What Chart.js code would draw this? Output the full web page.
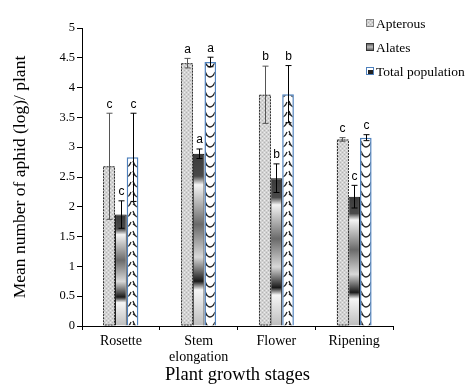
<!DOCTYPE html>
<html>
<head>
<meta charset="utf-8">
<script src="https://cdn.jsdelivr.net/npm/chart.js@4/dist/chart.umd.min.js"></script>
<style>
  html, body { margin: 0; padding: 0; background: #fff; }
  #wrap { width: 470px; height: 390px; }
</style>
</head>
<body>
<div id="wrap"><canvas id="chart" width="470" height="390"></canvas></div>
<script>
const categories = ['Rosette', ['Stem', 'elongation'], 'Flower', 'Ripening'];
const seriesNames = ['Apterous', 'Alates', 'Total population'];
const apterous = [2.68, 4.41, 3.88, 3.13];
const apterousErr = [0.89, 0.08, 0.48, 0.03];
const alates = [1.87, 2.89, 2.48, 2.17];
const alatesErr = [0.23, 0.08, 0.24, 0.19];
const total = [2.83, 4.43, 3.89, 3.16];
const totalErr = [0.74, 0.08, 0.48, 0.05];
const letters = [['c', 'a', 'b', 'c'], ['c', 'a', 'b', 'c'], ['c', 'a', 'b', 'c']];

const serif = "'Liberation Serif', 'Times New Roman', serif";
const sans = "'Liberation Sans', Arial, sans-serif";

// fill patterns
function dotPattern() {
  const c = document.createElement('canvas');
  c.width = 4; c.height = 4;
  const g = c.getContext('2d');
  g.fillStyle = '#d2d2d2'; g.fillRect(0, 0, 4, 4);
  g.fillStyle = '#ececec'; g.fillRect(0, 0, 1, 1); g.fillRect(2, 2, 1, 1);
  g.fillStyle = '#b4b4b4'; g.fillRect(2, 0, 1, 1); g.fillRect(0, 2, 1, 1);
  return g.createPattern(c, 'repeat');
}
function chevronPattern() {
  const c = document.createElement('canvas');
  c.width = 12; c.height = 10;
  const g = c.getContext('2d');
  g.fillStyle = '#fff'; g.fillRect(0, 0, 12, 10);
  g.strokeStyle = '#222'; g.lineWidth = 1.3;
  g.beginPath();
  g.moveTo(1, 1); g.quadraticCurveTo(3, 7, 6, 7); g.quadraticCurveTo(9, 7, 11, 2);
  g.moveTo(1, 4); g.lineTo(4, 6);
  g.stroke();
  return g.createPattern(c, 'repeat');
}
const aptFill = dotPattern();
const totFill = chevronPattern();

function alatesFill(ctx) {
  const chart = ctx.chart, y = chart.scales.y;
  if (!y || ctx.raw == null) return '#888';
  const top = y.getPixelForValue(ctx.raw), bot = y.getPixelForValue(0);
  if (!isFinite(top) || !isFinite(bot) || bot - top < 1) return '#888';
  const gr = chart.ctx.createLinearGradient(0, top, 0, bot);
  gr.addColorStop(0, '#3a3a3a');
  gr.addColorStop(0.13, '#4a4a4a');
  gr.addColorStop(0.18, '#f4f4f4');
  gr.addColorStop(0.41, '#6a6a6a');
  gr.addColorStop(0.6, '#d8d8d8');
  gr.addColorStop(0.74, '#1a1a1a');
  gr.addColorStop(0.79, '#f6f6f6');
  gr.addColorStop(1, '#bdbdbd');
  return gr;
}

const errs = [apterousErr, alatesErr, totalErr];
const errColors = ['#555', '#000', '#000'];

const extras = {
  id: 'extras',
  afterDatasetsDraw(chart) {
    const g = chart.ctx, y = chart.scales.y;
    g.save();
    // dashed outline for apterous
    chart.getDatasetMeta(0).data.forEach(el => {
      g.strokeStyle = '#333'; g.lineWidth = 1; g.setLineDash([2, 1]);
      const w = el.width;
      g.strokeRect(Math.round(el.x - w / 2) + 0.5, el.y + 0.5, Math.round(w) - 1, el.base - el.y - 1);
    });
    g.setLineDash([]);
    // error bars and letters
    chart.data.datasets.forEach((ds, di) => {
      chart.getDatasetMeta(di).data.forEach((el, i) => {
        const v = ds.data[i], e = errs[di][i];
        const yt = y.getPixelForValue(v + e), yb = y.getPixelForValue(v - e);
        const x = Math.round(el.x) + 0.5;
        g.strokeStyle = errColors[di]; g.lineWidth = 1;
        g.beginPath();
        g.moveTo(x, yt); g.lineTo(x, yb);
        g.moveTo(x - 3, yt); g.lineTo(x + 3, yt);
        g.moveTo(x - 3, yb); g.lineTo(x + 3, yb);
        g.stroke();
        g.fillStyle = '#000'; g.font = '12px ' + sans;
        g.textAlign = 'center'; g.textBaseline = 'bottom';
        g.fillText(letters[di][i], x, yt - 3);
      });
    });
    // legend
    const lx = 366, ly = [23, 47, 71];
    chart.data.datasets.forEach((ds, di) => {
      const yy = ly[di];
      if (di === 0) g.fillStyle = aptFill;
      else if (di === 1) {
        const gr = g.createLinearGradient(0, yy - 4, 0, yy + 4);
        gr.addColorStop(0, '#444'); gr.addColorStop(0.5, '#bbb'); gr.addColorStop(1, '#444');
        g.fillStyle = gr;
      } else g.fillStyle = '#fff';
      g.fillRect(lx, yy - 4, 8, 8);
      if (di === 2) { g.fillStyle = '#222'; g.fillRect(lx + 2, yy - 1, 5, 4); }
      g.strokeStyle = di === 2 ? '#4f81bd' : '#333';
      g.setLineDash(di === 0 ? [1, 1] : []);
      g.strokeRect(lx + 0.5, yy - 3.5, 7, 7);
      g.setLineDash([]);
      g.fillStyle = '#000'; g.font = '13.5px ' + serif;
      g.textAlign = 'left'; g.textBaseline = 'middle';
      g.fillText(ds.label, lx + 10, yy + 1);
    });
    g.restore();
  }
};

new Chart(document.getElementById('chart'), {
  type: 'bar',
  data: {
    labels: categories,
    datasets: [
      { label: seriesNames[0], data: apterous, backgroundColor: aptFill, borderWidth: 0 },
      { label: seriesNames[1], data: alates, backgroundColor: alatesFill, borderColor: '#000', borderWidth: 1 },
      { label: seriesNames[2], data: total, backgroundColor: totFill, borderColor: '#4f81bd', borderWidth: 1.5 }
    ]
  },
  options: {
    responsive: false,
    animation: false,
    layout: { padding: { left: 6, right: 77, top: 28, bottom: 0 } },
    datasets: { bar: { categoryPercentage: 0.45, barPercentage: 1 } },
    plugins: { legend: { display: false }, tooltip: { enabled: false } },
    scales: {
      x: {
        afterFit(s) { s.height = 64; },
        grid: { offset: true, drawOnChartArea: false, tickLength: 4, color: '#000' },
        border: { color: '#000', width: 1 },
        ticks: { color: '#000', font: { family: serif, size: 14, lineHeight: 1.1 }, maxRotation: 0, padding: 4 },
        title: { display: true, text: 'Plant growth stages', color: '#000', font: { family: serif, size: 18.5 }, padding: { top: 2 } }
      },
      y: {
        min: 0, max: 5,
        afterFit(s) { s.width = 76; },
        grid: { drawOnChartArea: false, tickLength: 5, color: '#000' },
        border: { color: '#000', width: 1 },
        ticks: { stepSize: 0.5, color: '#000', font: { family: serif, size: 12.5 }, padding: 2, callback: v => String(+v.toFixed(1)) },
        title: { display: true, text: 'Mean number of aphid (log)/ plant', color: '#000', font: { family: serif, size: 17.5 }, padding: { bottom: 8 } }
      }
    }
  },
  plugins: [extras]
});
</script>
</body>
</html>
